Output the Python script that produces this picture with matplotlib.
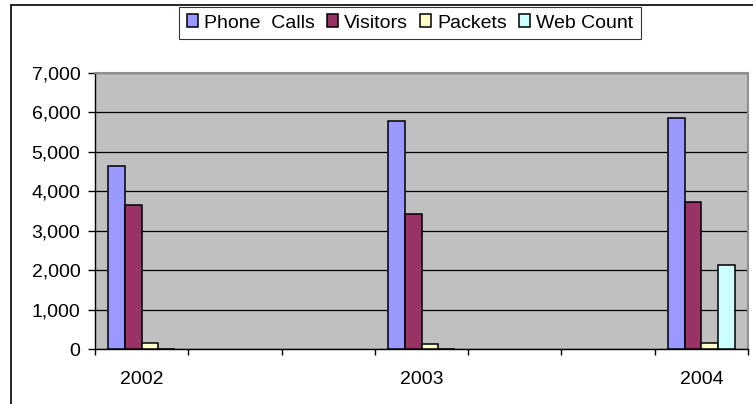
import matplotlib.pyplot as plt
from matplotlib.patches import Rectangle
from matplotlib.ticker import FuncFormatter, FixedLocator
import numpy as np

plt.rcParams['font.family'] = ['Liberation Sans', 'DejaVu Sans']

# categories (blank rows in the source sheet are kept as empty slots)
categories = ["2002", "", "", "2003", "", "", "2004"]
phone_calls = [4650, np.nan, np.nan, 5790, np.nan, np.nan, 5855]
visitors = [3650, np.nan, np.nan, 3430, np.nan, np.nan, 3740]
packets = [150, np.nan, np.nan, 120, np.nan, np.nan, 145]
web_count = [0, np.nan, np.nan, 0, np.nan, np.nan, 2140]

series = [
    ("Phone  Calls", phone_calls, "#9999FF"),
    ("Visitors", visitors, "#993366"),
    ("Packets", packets, "#FFFFCC"),
    ("Web Count", web_count, "#CCFFFF"),
]

fig = plt.figure(figsize=(7.53, 4.04), dpi=100)
ax = fig.add_axes([95 / 753, 1 - 349 / 404, 653 / 753, 276 / 404])

# outer chart frame (only top and left edges show in the crop)
fig.patches.append(Rectangle((11 / 753, -0.1), 1.2, 1 - 4.5 / 404 + 0.1,
                             transform=fig.transFigure, fill=False,
                             edgecolor="black", linewidth=1.2))

x = np.arange(len(categories))
w = 0.18
handles = []
for i, (name, vals, col) in enumerate(series):
    b = ax.bar(x + (i - 1.5) * w, vals, w, color=col, edgecolor="black",
               linewidth=1.1, label=name, zorder=3)
    handles.append(b)

ax.set_facecolor("#C0C0C0")
ax.set_xlim(-0.5, len(categories) - 0.5)
ax.set_ylim(0, 7000)
ax.set_yticks(np.arange(0, 7001, 1000))
ax.yaxis.set_major_formatter(FuncFormatter(lambda v, p: f"{int(v):,}"))
ax.yaxis.grid(True, color="black", linewidth=0.9, zorder=1)
ax.set_axisbelow(True)

ax.set_xticks(x)
ax.set_xticklabels(categories)
ax.xaxis.set_minor_locator(FixedLocator(np.arange(-0.5, len(categories), 1.0)))
ax.tick_params(axis="x", which="major", length=0, pad=15.5, labelsize=14)
ax.tick_params(axis="x", which="minor", length=4, width=1, direction="out")
ax.tick_params(axis="y", length=5, width=1, direction="out", pad=5.5, labelsize=14)

for s in ["top", "right"]:
    ax.spines[s].set_color("#909090")
    ax.spines[s].set_linewidth(1.5)
for s in ["left", "bottom"]:
    ax.spines[s].set_color("black")
    ax.spines[s].set_linewidth(1)

leg = fig.legend(handles=handles, loc="center",
                 bbox_to_anchor=(410 / 753, 1 - 23 / 404),
                 ncol=4, frameon=True, fancybox=False, edgecolor="black",
                 fontsize=14, handlelength=0.6, handleheight=0.6,
                 handletextpad=0.3, columnspacing=0.6, borderpad=0.4,
                 borderaxespad=0)
leg.get_frame().set_linewidth(0.8)

fig.savefig("out.png", dpi=100)
